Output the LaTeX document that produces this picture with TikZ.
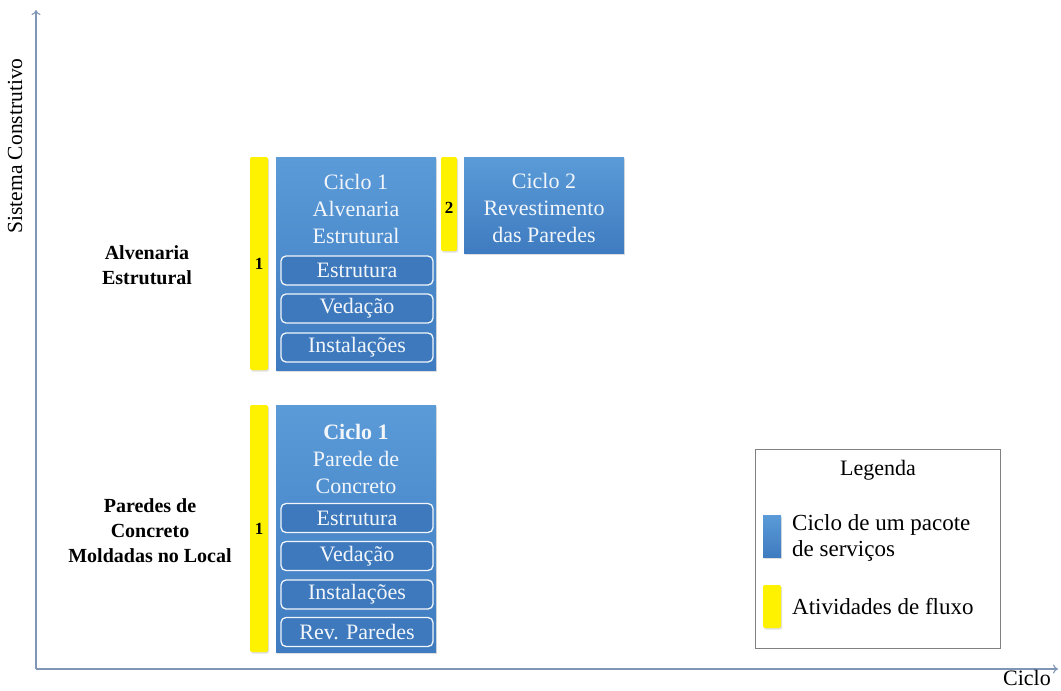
\documentclass[tikz,border=0pt]{standalone}
\usepackage{fontspec}
\setmainfont{Liberation Serif}
\usetikzlibrary{shadows,arrows.meta}
\definecolor{axisblue}{HTML}{7F96B6}
\definecolor{cyctop}{HTML}{5B9BD8}
\definecolor{cycbot}{HTML}{3E7BC0}
\definecolor{subfill}{HTML}{3D79BC}
\definecolor{txtwhite}{HTML}{F2F6FB}
\begin{document}
\begin{tikzpicture}[x=1pt,y=-1pt]
        \tikzstyle{every node}=[inner sep=0pt]
        \tikzstyle{cycle}=[rectangle, minimum width=160pt, top color=cyctop, bottom color=cycbot, drop shadow={opacity=0.25,shadow xshift=1pt,shadow yshift=-1.5pt}]
        \tikzstyle{flow}=[rectangle, rounded corners=2pt, minimum width=18pt, fill=yellow, drop shadow={opacity=0.25,shadow xshift=1pt,shadow yshift=-1.5pt}]
        \tikzstyle{task}=[rectangle, rounded corners=5pt, minimum width=152pt, minimum height=29pt, fill=subfill, draw=txtwhite, line width=1.3pt, text=txtwhite, font=\fontsize{22}{27}\selectfont]
        \tikzstyle{cyctext}=[align=center, text=txtwhite, font=\fontsize{22}{27}\selectfont]
        \tikzstyle{num}=[font=\fontsize{17}{20}\selectfont\bfseries]
        \tikzstyle{system}=[align=center, font=\fontsize{20}{25}\selectfont\bfseries]
        \tikzstyle{legtext}=[align=left, font=\fontsize{23}{26}\selectfont]
        \useasboundingbox (0,0) rectangle (1061,691);

        % axes
        \coordinate (origin) at (36,669);
        \coordinate (ytop) at (36,10);
        \coordinate (xend) at (1058,669);
        \draw[axisblue, line width=1.1pt, -{To[length=5pt,width=9pt]}] (origin) -- (ytop);
        \draw[axisblue, line width=1.1pt, -{To[length=5pt,width=9pt]}] (origin) -- (xend);
        \node[rotate=90, font=\fontsize{21.5}{26}\selectfont] (ylabel) at (15,146) {Sistema Construtivo};
        \node[font=\fontsize{22}{27}\selectfont] (xlabel) at (1027,678) {Ciclo};

        % Alvenaria Estrutural
        \node[system] (alv) at (147,265) {Alvenaria\\Estrutural};
        \node[flow, minimum height=213pt] (flowA1) at (259,263.5) {};
        \node[num] at (flowA1) {1};
        \node[cycle, minimum height=213pt] (cycA1) at (356,263.5) {};
        \node[cyctext] (cycA1t) at (356,209) {Ciclo 1\\Alvenaria\\Estrutural};
        \node[task] (estA) at (357,270.5) {Estrutura};
        \node[task] (vedA) at (357,308.5) {Vedação};
        \node[task] (insA) at (357,347.5) {Instalações};
        \node[flow, minimum width=16pt, minimum height=94pt] (flowA2) at (449,204) {};
        \node[num] at (449,208) {2};
        \node[cycle, minimum height=96pt] (cycA2) at (544,205) {};
        \node[cyctext] (cycA2t) at (544,208) {Ciclo 2\\Revestimento\\das Paredes};

        % Paredes de Concreto
        \node[system] (pc) at (150,530.5) {Paredes de\\Concreto\\Moldadas no Local};
        \node[flow, minimum height=247pt] (flowB1) at (259,528.5) {};
        \node[num] at (flowB1) {1};
        \node[cycle, minimum height=247pt] (cycB1) at (356,528.5) {};
        \node[cyctext] (cycB1t) at (356,459) {\textbf{Ciclo 1}\\Parede de\\Concreto};
        \node[task] (estB) at (357,518) {Estrutura};
        \node[task] (vedB) at (357,556) {Vedação};
        \node[task] (insB) at (357,594.5) {Instalações};
        \node[task] (revB) at (357,632) {Rev. Paredes};

        % legenda
        \node[draw=gray, line width=0.8pt, minimum width=245pt, minimum height=199pt] (legend) at (877.5,548.5) {};
        \node[font=\fontsize{22}{27}\selectfont] (legtitle) at (878,470) {Legenda};
        \node[cycle, minimum width=18pt, minimum height=42pt] (legcyc) at (772,536) {};
        \node[legtext, anchor=west] (legcyct) at (792,538) {Ciclo de um pacote\\de serviços};
        \node[flow, minimum height=43pt] (legflow) at (772,606.5) {};
        \node[legtext, anchor=west] (legflowt) at (792,607) {Atividades de fluxo};
    \end{tikzpicture}
\end{document}
